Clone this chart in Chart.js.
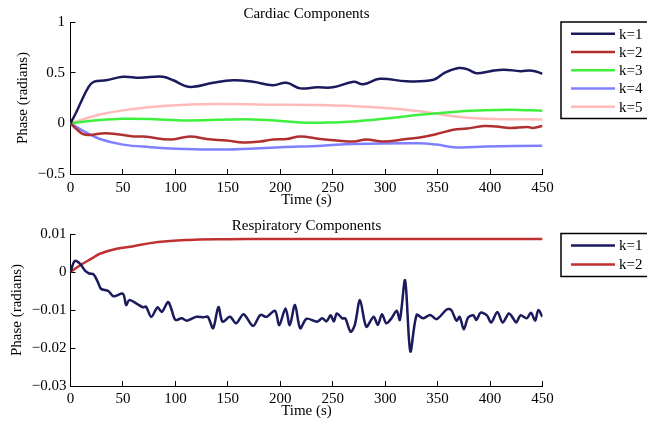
<!DOCTYPE html>
<html>
<head>
<meta charset="utf-8">
<script src="https://cdn.jsdelivr.net/npm/chart.js@4"></script>
<style>
  body { margin: 0; background: #fff; }
  canvas { position: absolute; left: 0; }
  #cardiac { top: 0; }
  #resp { top: 210px; }
</style>
</head>
<body>
<canvas id="cardiac" width="647" height="210"></canvas>
<canvas id="resp" width="647" height="211"></canvas>
<script>
// x ticks (s)
const timeTicks = [0, 50, 100, 150, 200, 250, 300, 350, 400, 450];

// cardiac components
const cardK1T = [0, 5, 10, 17, 22, 34, 50, 66, 88, 98, 109, 117, 136, 155, 174, 193, 206, 219, 235, 250, 270, 279, 295, 320, 346, 357, 370, 378, 387, 400, 413, 429, 440, 450];
const cardK1 = [0, 0.10, 0.21, 0.355, 0.41, 0.425, 0.46, 0.45, 0.46, 0.425, 0.37, 0.36, 0.40, 0.425, 0.41, 0.377, 0.40, 0.345, 0.355, 0.355, 0.41, 0.385, 0.44, 0.415, 0.43, 0.50, 0.545, 0.535, 0.495, 0.515, 0.53, 0.515, 0.52, 0.49];
const cardK2T = [0, 6, 12, 18, 34, 60, 70, 95, 114, 130, 149, 165, 181, 193, 206, 219, 238, 254, 270, 282, 298, 320, 333, 349, 365, 378, 394, 406, 419, 435, 441, 450];
const cardK2 = [0, -0.06, -0.106, -0.115, -0.097, -0.129, -0.13, -0.16, -0.129, -0.155, -0.17, -0.19, -0.18, -0.16, -0.155, -0.129, -0.155, -0.17, -0.18, -0.16, -0.18, -0.155, -0.14, -0.106, -0.064, -0.052, -0.026, -0.032, -0.045, -0.035, -0.045, -0.026];
const cardK3T = [0, 28, 50, 85, 114, 174, 225, 238, 270, 301, 333, 365, 387, 419, 450];
const cardK3 = [0, 0.032, 0.045, 0.039, 0.029, 0.039, 0.006, 0.006, 0.019, 0.048, 0.084, 0.113, 0.126, 0.135, 0.123];
const cardK4T = [0, 12, 28, 50, 76, 101, 149, 200, 240, 270, 333, 349, 368, 396, 450];
const cardK4 = [0, -0.074, -0.155, -0.21, -0.235, -0.25, -0.258, -0.235, -0.22, -0.203, -0.196, -0.21, -0.238, -0.229, -0.22];
const cardK5T = [0, 28, 60, 92, 139, 187, 238, 286, 333, 365, 397, 450];
const cardK5 = [0, 0.087, 0.142, 0.174, 0.19, 0.184, 0.18, 0.16, 0.119, 0.071, 0.045, 0.039];
const cardTicks = [-0.5, 0, 0.5, 1];

// respiratory components
const respK1T = [0, 4, 9, 14, 18, 22, 26, 29, 36, 41, 50, 53, 56, 63, 69, 72, 77, 83, 87, 93, 96, 100, 106, 111, 120, 127, 131, 136, 141, 145, 152, 158, 165, 174, 181, 187, 195, 199, 205, 209, 214, 219, 225, 235, 240, 244, 248, 251, 254, 259, 262, 267, 271, 276, 282, 289, 293, 297, 301, 306, 311, 314, 319, 324, 330, 336, 343, 349, 359, 363, 368, 371, 375, 379, 384, 387, 391, 397, 401, 407, 412, 418, 422, 425, 429, 435, 439, 443, 446, 450];
const respK1 = [0, 0.0029, 0.0022, 0.0003, -0.0004, -0.0006, -0.0026, -0.0044, -0.005, -0.0064, -0.0057, -0.0087, -0.0074, -0.0083, -0.0093, -0.0091, -0.0118, -0.0093, -0.0105, -0.0079, -0.0096, -0.0126, -0.0122, -0.0128, -0.0118, -0.0119, -0.0118, -0.0148, -0.0092, -0.0131, -0.0118, -0.0135, -0.0111, -0.0142, -0.0113, -0.0118, -0.0102, -0.014, -0.0096, -0.014, -0.0087, -0.0148, -0.0123, -0.0131, -0.0122, -0.013, -0.0114, -0.013, -0.0109, -0.0122, -0.0122, -0.0157, -0.014, -0.0074, -0.0144, -0.0118, -0.0139, -0.0111, -0.0135, -0.0122, -0.0102, -0.0126, -0.0022, -0.0209, -0.0113, -0.0122, -0.0113, -0.0124, -0.0098, -0.01, -0.0128, -0.0118, -0.0151, -0.012, -0.0114, -0.0126, -0.0107, -0.0114, -0.0133, -0.0105, -0.0133, -0.0109, -0.0122, -0.0133, -0.0114, -0.0122, -0.0107, -0.0128, -0.01, -0.0118];
const respK2T = [0, 10, 20, 28, 44, 60, 76, 92, 110, 123, 150, 187, 250, 350, 450];
const respK2 = [0, 0.0019, 0.0035, 0.0048, 0.0061, 0.0068, 0.0076, 0.0081, 0.0084, 0.00855, 0.0086, 0.0087, 0.0087, 0.0087, 0.0087];
const respTicks = [-0.03, -0.02, -0.01, 0, 0.01];

const FONT = 'Liberation Serif';

const pts = (t, v) => t.map((x, i) => ({ x: x, y: v[i] }));
const fmt = v => String(Number(v.toFixed(3))).replace('-', '\u2212');

function line(label, t, v, color, tension) {
  return {
    label: label,
    data: pts(t, v),
    borderColor: color,
    backgroundColor: color,
    borderWidth: 2.5,
    pointRadius: 0,
    fill: false,
    tension: tension
  };
}

// MATLAB style legend box to the right of the axes
const boxLegend = {
  id: 'boxLegend',
  afterDraw(chart, args, opts) {
    const ctx = chart.ctx;
    const sets = chart.data.datasets;
    ctx.save();
    ctx.strokeStyle = '#000';
    ctx.lineWidth = 1.5;
    ctx.strokeRect(opts.x, opts.y, opts.w, opts.rowH * sets.length + opts.pad * 2);
    ctx.font = '15px "' + FONT + '"';
    ctx.textBaseline = 'middle';
    ctx.fillStyle = '#000';
    sets.forEach((ds, i) => {
      const y = opts.y + opts.pad + opts.rowH * (i + 0.5);
      ctx.strokeStyle = ds.borderColor;
      ctx.lineWidth = 2.5;
      ctx.beginPath();
      ctx.moveTo(opts.x + 10, y);
      ctx.lineTo(opts.x + 54, y);
      ctx.stroke();
      ctx.fillText(ds.label, opts.x + 58, y + 1);
    });
    ctx.restore();
  }
};

function makeChart(id, cfg) {
  return new Chart(document.getElementById(id), {
    type: 'line',
    data: { datasets: cfg.datasets },
    plugins: [boxLegend],
    options: {
      responsive: false,
      animation: false,
      layout: { padding: { left: 0, right: 104.5, top: 0, bottom: 0 } },
      plugins: {
        legend: { display: false },
        tooltip: { enabled: false },
        title: {
          display: true,
          text: cfg.title,
          fullSize: false,
          color: '#000',
          font: { family: FONT, size: 15, weight: 'normal', lineHeight: 1 },
          padding: { top: cfg.titleTop, bottom: cfg.titleBottom }
        },
        boxLegend: cfg.legend
      },
      scales: {
        x: {
          type: 'linear',
          min: 0,
          max: 450,
          afterFit: s => { s.height = cfg.xHeight; },
          afterBuildTicks: s => { s.ticks = timeTicks.map(v => ({ value: v })); },
          border: { color: '#000', width: 1 },
          grid: { drawOnChartArea: false, drawTicks: true, tickLength: -5, color: '#000' },
          ticks: { color: '#000', padding: cfg.xPad, maxRotation: 0, autoSkip: false,
                   font: { family: FONT, size: 15 } },
          title: { display: true, text: 'Time (s)', color: '#000',
                   font: { family: FONT, size: 15 }, padding: { top: 0, bottom: 1 } }
        },
        y: {
          min: cfg.yTicks[0],
          max: cfg.yTicks[cfg.yTicks.length - 1],
          afterFit: s => { s.width = 70.5; },
          afterBuildTicks: s => { s.ticks = cfg.yTicks.map(v => ({ value: v })); },
          border: { color: '#000', width: 1 },
          grid: { drawOnChartArea: false, drawTicks: true, tickLength: -5, color: '#000' },
          ticks: { color: '#000', padding: cfg.yPad, autoSkip: false,
                   font: { family: FONT, size: 15 }, callback: v => fmt(v) },
          title: { display: true, text: 'Phase (radians)', color: '#000',
                   font: { family: FONT, size: 15 }, padding: { top: cfg.yTitlePad, bottom: 0 } }
        }
      }
    }
  });
}

makeChart('cardiac', {
  title: 'Cardiac Components',
  titleTop: 7, titleBottom: 0,
  xHeight: 36, xPad: 10, yPad: 10.5, yTitlePad: 14.5,
  yTicks: cardTicks,
  legend: { x: 561, y: 22, w: 100, rowH: 18.3, pad: 2.5 },
  datasets: [
    line('k=1', cardK1T, cardK1, '#1a1a5c', 0.4),
    line('k=2', cardK2T, cardK2, '#b03030', 0.4),
    line('k=3', cardK3T, cardK3, '#3ef03e', 0.4),
    line('k=4', cardK4T, cardK4, '#8080ff', 0.4),
    line('k=5', cardK5T, cardK5, '#ffbaba', 0.4)
  ]
});

makeChart('resp', {
  title: 'Respiratory Components',
  titleTop: 8.5, titleBottom: 0.5,
  xHeight: 35, xPad: 9, yPad: 9, yTitlePad: 8,
  yTicks: respTicks,
  legend: { x: 561, y: 23.5, w: 100, rowH: 19, pad: 2.5 },
  datasets: [
    line('k=1', respK1T, respK1, '#1a1a5c', 0.3),
    line('k=2', respK2T, respK2, '#c03030', 0.4)
  ]
});
</script>
</body>
</html>
